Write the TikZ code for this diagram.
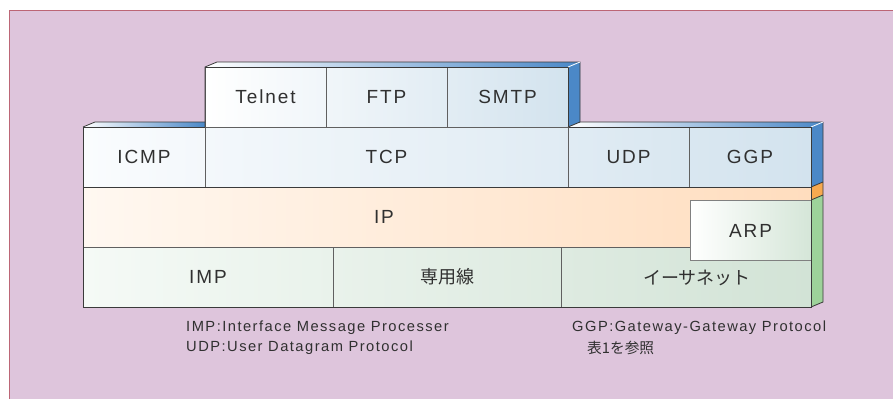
\documentclass[tikz,border=0pt]{standalone}
\usepackage{fontspec}
\setmainfont{Liberation Sans}[LetterSpace=10]
\newfontfamily\jp{Noto Sans CJK JP}
\definecolor{bgpink}{HTML}{DEC5DC}
\definecolor{framered}{HTML}{BC6676}
\definecolor{edge}{HTML}{3A3A3A}
\definecolor{divider}{HTML}{606060}
\definecolor{txt}{HTML}{303030}
\definecolor{sideblue}{HTML}{4B88C7}
\definecolor{sideorange}{HTML}{F7A94F}
\definecolor{sidegreen}{HTML}{9DD29A}
\definecolor{blueL}{HTML}{FAFCFE}
\definecolor{blueR}{HTML}{D3E3EE}
\definecolor{ipL}{HTML}{FFF8F1}
\definecolor{ipR}{HTML}{FFDDBE}
\definecolor{greenL}{HTML}{F5FAF6}
\definecolor{greenR}{HTML}{D2E3D6}
\definecolor{arpR}{HTML}{D5E6D8}
\begin{document}
\begin{tikzpicture}[x=1pt,y=-1pt,
  cell/.style={draw=divider, line width=0.8pt, inner sep=0pt, minimum height=60pt,
    text=txt, font=\fontsize{19}{22}\selectfont},
  jcell/.style={cell, font=\jp\fontsize{18}{20}\selectfont},
  label/.style={inner sep=0pt, text=txt, font=\fontsize{19}{22}\selectfont},
  note/.style={inner sep=0pt, anchor=west, text=txt, font=\fontsize{14.7}{17}\selectfont},
  jnote/.style={note, font=\jp\fontsize{14.7}{17}\selectfont},
  outline/.style={draw=edge, line width=0.8pt},
  topface/.style={left color=white, right color=sideblue}]
\useasboundingbox (0,0) rectangle (893,399);
% page and framed panel
\fill[white] (0,0) rectangle (893,399);
\fill[bgpink] (9.5,10.5) rectangle (893,399);
\draw[framered, line width=1.5pt] (9.5,399) -- (9.5,10.5) -- (893,10.5);

% top faces of the transport layer
\shade[topface] (83,127) -- (95,122) -- (205,122) -- (205,127) -- cycle;
\shade[topface] (568,127) -- (580,122) -- (823,122) -- (811,127) -- cycle;
\draw[outline] (83,127) -- (95,122) -- (823,122);

% right-hand side faces
\fill[sideblue] (811,127) -- (823,122) -- (823,182) -- (811,187) -- cycle;
\fill[sideorange] (811,187) -- (823,182) -- (823,195) -- (811,200) -- cycle;
\fill[sidegreen] (811,200) -- (823,195) -- (823,302) -- (811,307) -- cycle;
\draw[outline] (823,122) -- (823,302) -- (811,307);
\draw[outline] (811,187) -- (823,182);
\draw[outline] (811,200) -- (823,195);
\draw[white, line width=0.8pt] (811,127) -- (823,122);

% band shadings
\shade[left color=blueL, right color=blueR] (83,127) rectangle (811,187);
\shade[left color=ipL, right color=ipR] (83,187) rectangle (811,247);
\shade[left color=greenL, right color=greenR] (83,247) rectangle (811,307);

% transport layer
\node[cell, minimum width=122pt] (icmp) at (144,157) {ICMP};
\node[cell, minimum width=363pt] (tcp) at (386.5,157) {TCP};
\node[cell, minimum width=121pt] (udp) at (628.5,157) {UDP};
\node[cell, minimum width=122pt] (ggp) at (750,157) {GGP};

% internet layer
\draw[outline] (83,187) rectangle (811,247);
\node[label] (ip) at (384,217) {IP};

% link layer
\node[cell, minimum width=250pt] (imp) at (208,277) {IMP};
\node[jcell, minimum width=228pt] (line) at (447,277) {専用線};
\node[cell, minimum width=250pt] (ether) at (686,277) {};
\node[label, font=\jp\fontsize{18}{20}\selectfont] (etherlabel) at (697,278) {イーサネット};
\node[draw=gray, line width=0.8pt, inner sep=0pt, minimum width=121pt, minimum height=60pt,
  left color=white, right color=arpR, text=txt, font=\fontsize{19}{22}\selectfont]
  (arp) at (750.5,230.5) {ARP};
\draw[outline] (83,127) rectangle (811,307);
\draw[outline] (811,127) -- (811,307);

% application layer block
\shade[topface] (205,67) -- (217,62) -- (580,62) -- (568,67) -- cycle;
\fill[sideblue] (568,67) -- (580,62) -- (580,122) -- (568,127) -- cycle;
\shade[left color=white, right color=blueR] (205,67) rectangle (568,127);
\node[cell, minimum width=121pt] (telnet) at (265.5,97) {Telnet};
\node[cell, minimum width=121pt] (ftp) at (386.5,97) {FTP};
\node[cell, minimum width=121pt] (smtp) at (507.5,97) {SMTP};
\draw[outline] (205,127) -- (205,67) -- (217,62) -- (580,62) -- (580,122) -- (568,127);
\draw[outline] (205,67) -- (568,67) -- (568,127);
\draw[white, line width=0.8pt] (568,67) -- (580,62);

% notes
\node[note] (n1) at (186,328) {IMP:Interface Message Processer};
\node[note] (n2) at (186,348) {UDP:User Datagram Protocol};
\node[note] (n3) at (572,328) {GGP:Gateway-Gateway Protocol};
\node[jnote] (n4) at (587,348) {表1を参照};
\end{tikzpicture}
\end{document}
